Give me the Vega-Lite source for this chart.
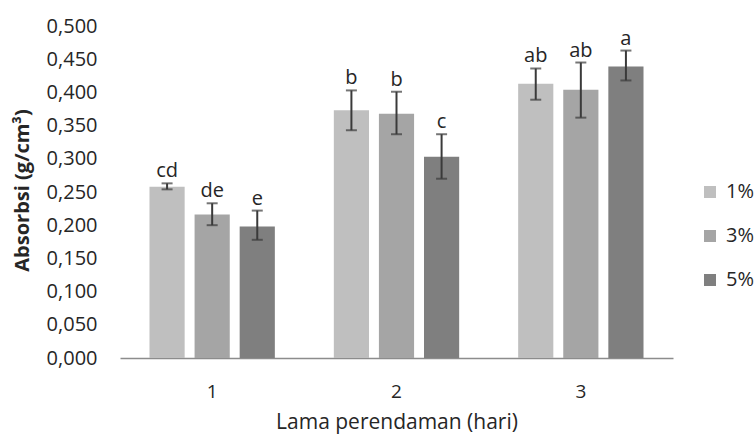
{
  "$schema": "https://vega.github.io/schema/vega-lite/v6.json",
  "width": 553,
  "height": 332,
  "autosize": {"type": "none"},
  "padding": {"left": 120, "top": 26, "right": 83, "bottom": 79},
  "background": "white",
  "config": {
    "locale": {"number": {"decimal": ",", "thousands": ".", "grouping": [3], "currency": ["", ""]}},
    "font": "Open Sans",
    "view": {"stroke": null},
    "axisY": {"labelOverlap": false, "tickCount": 11, "grid": false, "domain": false, "ticks": false, "format": ".3f",
      "labelFontSize": 20, "labelColor": "#262626", "labelPadding": 23}
  },
  "data": {
    "values": [
      {"hari": "1", "konsentrasi": "1%", "absorbsi": 0.258, "lo": 0.254, "hi": 0.263, "notasi": "cd"},
      {"hari": "1", "konsentrasi": "3%", "absorbsi": 0.216, "lo": 0.200, "hi": 0.233, "notasi": "de"},
      {"hari": "1", "konsentrasi": "5%", "absorbsi": 0.198, "lo": 0.178, "hi": 0.222, "notasi": "e"},
      {"hari": "2", "konsentrasi": "1%", "absorbsi": 0.373, "lo": 0.343, "hi": 0.403, "notasi": "b"},
      {"hari": "2", "konsentrasi": "3%", "absorbsi": 0.368, "lo": 0.337, "hi": 0.401, "notasi": "b"},
      {"hari": "2", "konsentrasi": "5%", "absorbsi": 0.303, "lo": 0.270, "hi": 0.337, "notasi": "c"},
      {"hari": "3", "konsentrasi": "1%", "absorbsi": 0.413, "lo": 0.389, "hi": 0.436, "notasi": "ab"},
      {"hari": "3", "konsentrasi": "3%", "absorbsi": 0.404, "lo": 0.362, "hi": 0.445, "notasi": "ab"},
      {"hari": "3", "konsentrasi": "5%", "absorbsi": 0.439, "lo": 0.418, "hi": 0.463, "notasi": "a"}
    ]
  },
  "encoding": {
    "x": {
      "field": "hari", "type": "nominal", "sort": ["1", "2", "3"],
      "scale": {"paddingInner": 0.32, "paddingOuter": 0.16},
      "axis": {
        "title": "Lama perendaman (hari)", "labelAngle": 0, "ticks": false,
        "domainColor": "#8c8c8c", "domainWidth": 1.5,
        "labelFontSize": 19, "labelColor": "#262626", "labelPadding": 24,
        "titleFontSize": 21, "titleFontWeight": "normal", "titleColor": "#262626",
        "titleY": 64, "titleBaseline": "middle"
      }
    },
    "xOffset": {"field": "konsentrasi", "type": "nominal", "sort": ["1%", "3%", "5%"], "scale": {"paddingInner": 0.22, "paddingOuter": 0}}
  },
  "layer": [
    {
      "mark": {"type": "bar"},
      "encoding": {
        "y": {
          "field": "absorbsi", "type": "quantitative",
          "scale": {"domain": [0, 0.5], "nice": false},
          "axis": {
            "title": "Absorbsi (g/cm³)", "format": ".3f",
            "values": [0, 0.05, 0.1, 0.15, 0.2, 0.25, 0.3, 0.35, 0.4, 0.45, 0.5],
            "labelOverlap": false,
            "titleFontSize": 20, "titleFontWeight": "bold", "titleColor": "#262626",
            "titleX": -98, "titleY": 164, "titleAngle": 270, "titleAlign": "center", "titleBaseline": "middle"
          }
        },
        "color": {
          "field": "konsentrasi", "type": "nominal", "sort": ["1%", "3%", "5%"],
          "scale": {"domain": ["1%", "3%", "5%"], "range": ["#BFBFBF", "#A5A5A5", "#7F7F7F"]},
          "legend": {
            "title": null, "orient": "none", "legendX": 580, "legendY": 156,
            "symbolType": "square", "symbolSize": 144, "symbolStrokeWidth": 0,
            "labelFontSize": 20, "labelColor": "#262626", "labelOffset": 6, "rowPadding": 24
          }
        }
      }
    },
    {
      "mark": {"type": "rule", "color": "#3a3a3a", "strokeWidth": 2},
      "encoding": {
        "y": {"field": "lo", "type": "quantitative"},
        "y2": {"field": "hi"}
      }
    },
    {
      "mark": {"type": "tick", "color": "#3a3a3a", "thickness": 2, "size": 11, "orient": "horizontal"},
      "encoding": {"y": {"field": "lo", "type": "quantitative"}}
    },
    {
      "mark": {"type": "tick", "color": "#3a3a3a", "thickness": 2, "size": 11, "orient": "horizontal"},
      "encoding": {"y": {"field": "hi", "type": "quantitative"}}
    },
    {
      "mark": {"type": "text", "baseline": "bottom", "dy": -2, "fontSize": 20, "color": "#262626"},
      "encoding": {
        "y": {"field": "hi", "type": "quantitative"},
        "text": {"field": "notasi"}
      }
    }
  ]
}
